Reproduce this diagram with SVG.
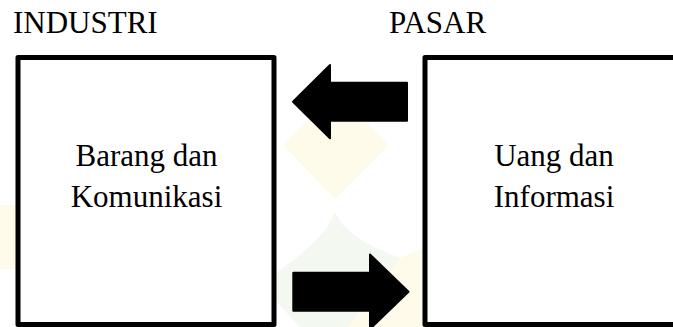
<svg xmlns="http://www.w3.org/2000/svg" width="673" height="327" viewBox="0 0 673 327">
  <defs>
    <style>
      .label { font-family: "Liberation Serif", "Times New Roman", serif; font-size: 31px; fill: #000; }
      .mid { text-anchor: middle; }
      .box { fill: #fff; stroke: #000; stroke-width: 5; stroke-linejoin: round; }
      .arrow { fill: #000; stroke: #000; stroke-width: 2; stroke-linejoin: round; }
      .wm-y { fill: #fffbea; }
      .wm-g { fill: #f3f8f1; }
    </style>
  </defs>

  <rect width="673" height="327" fill="#fff"/>

  <!-- faint background emblem -->
  <g id="watermark">
    <polygon class="wm-y" points="336,92 388.5,145 335,198.5 283,145"/>
    <path class="wm-g" d="M335,212 C345,235 370,246 400,258 L348,327 L300,327 L275,300 L276,273 C300,256 326,236 335,212 Z"/>
    <path class="wm-y" d="M400,258 L425,247 L425,327 L348,327 Z"/>
    <rect class="wm-y" x="0" y="205" width="18" height="64"/>
  </g>

  <!-- headings -->
  <text id="title-industri" class="label" x="13" y="33">INDUSTRI</text>
  <text id="title-pasar" class="label" x="389" y="33">PASAR</text>

  <!-- left node -->
  <g id="node-industri">
    <rect class="box" x="18" y="57.5" width="256" height="267"/>
    <text class="label mid" x="146.5" y="166">Barang dan</text>
    <text class="label mid" x="146.5" y="207">Komunikasi</text>
  </g>

  <!-- right node -->
  <g id="node-pasar">
    <rect class="box" x="425" y="57.5" width="262" height="267"/>
    <text class="label mid" x="554" y="166">Uang dan</text>
    <text class="label mid" x="554" y="207">Informasi</text>
  </g>

  <!-- block arrows between the nodes -->
  <g id="connectors">
    <polygon class="arrow" points="293,101.7 330,65 330,82.7 407,82.7 407,120.7 330,120.7 330,138.3"/>
    <polygon class="arrow" points="293.3,272.7 370,272.7 370,254.5 408.5,291.7 370,329 370,310.7 293.3,310.7"/>
  </g>
</svg>
